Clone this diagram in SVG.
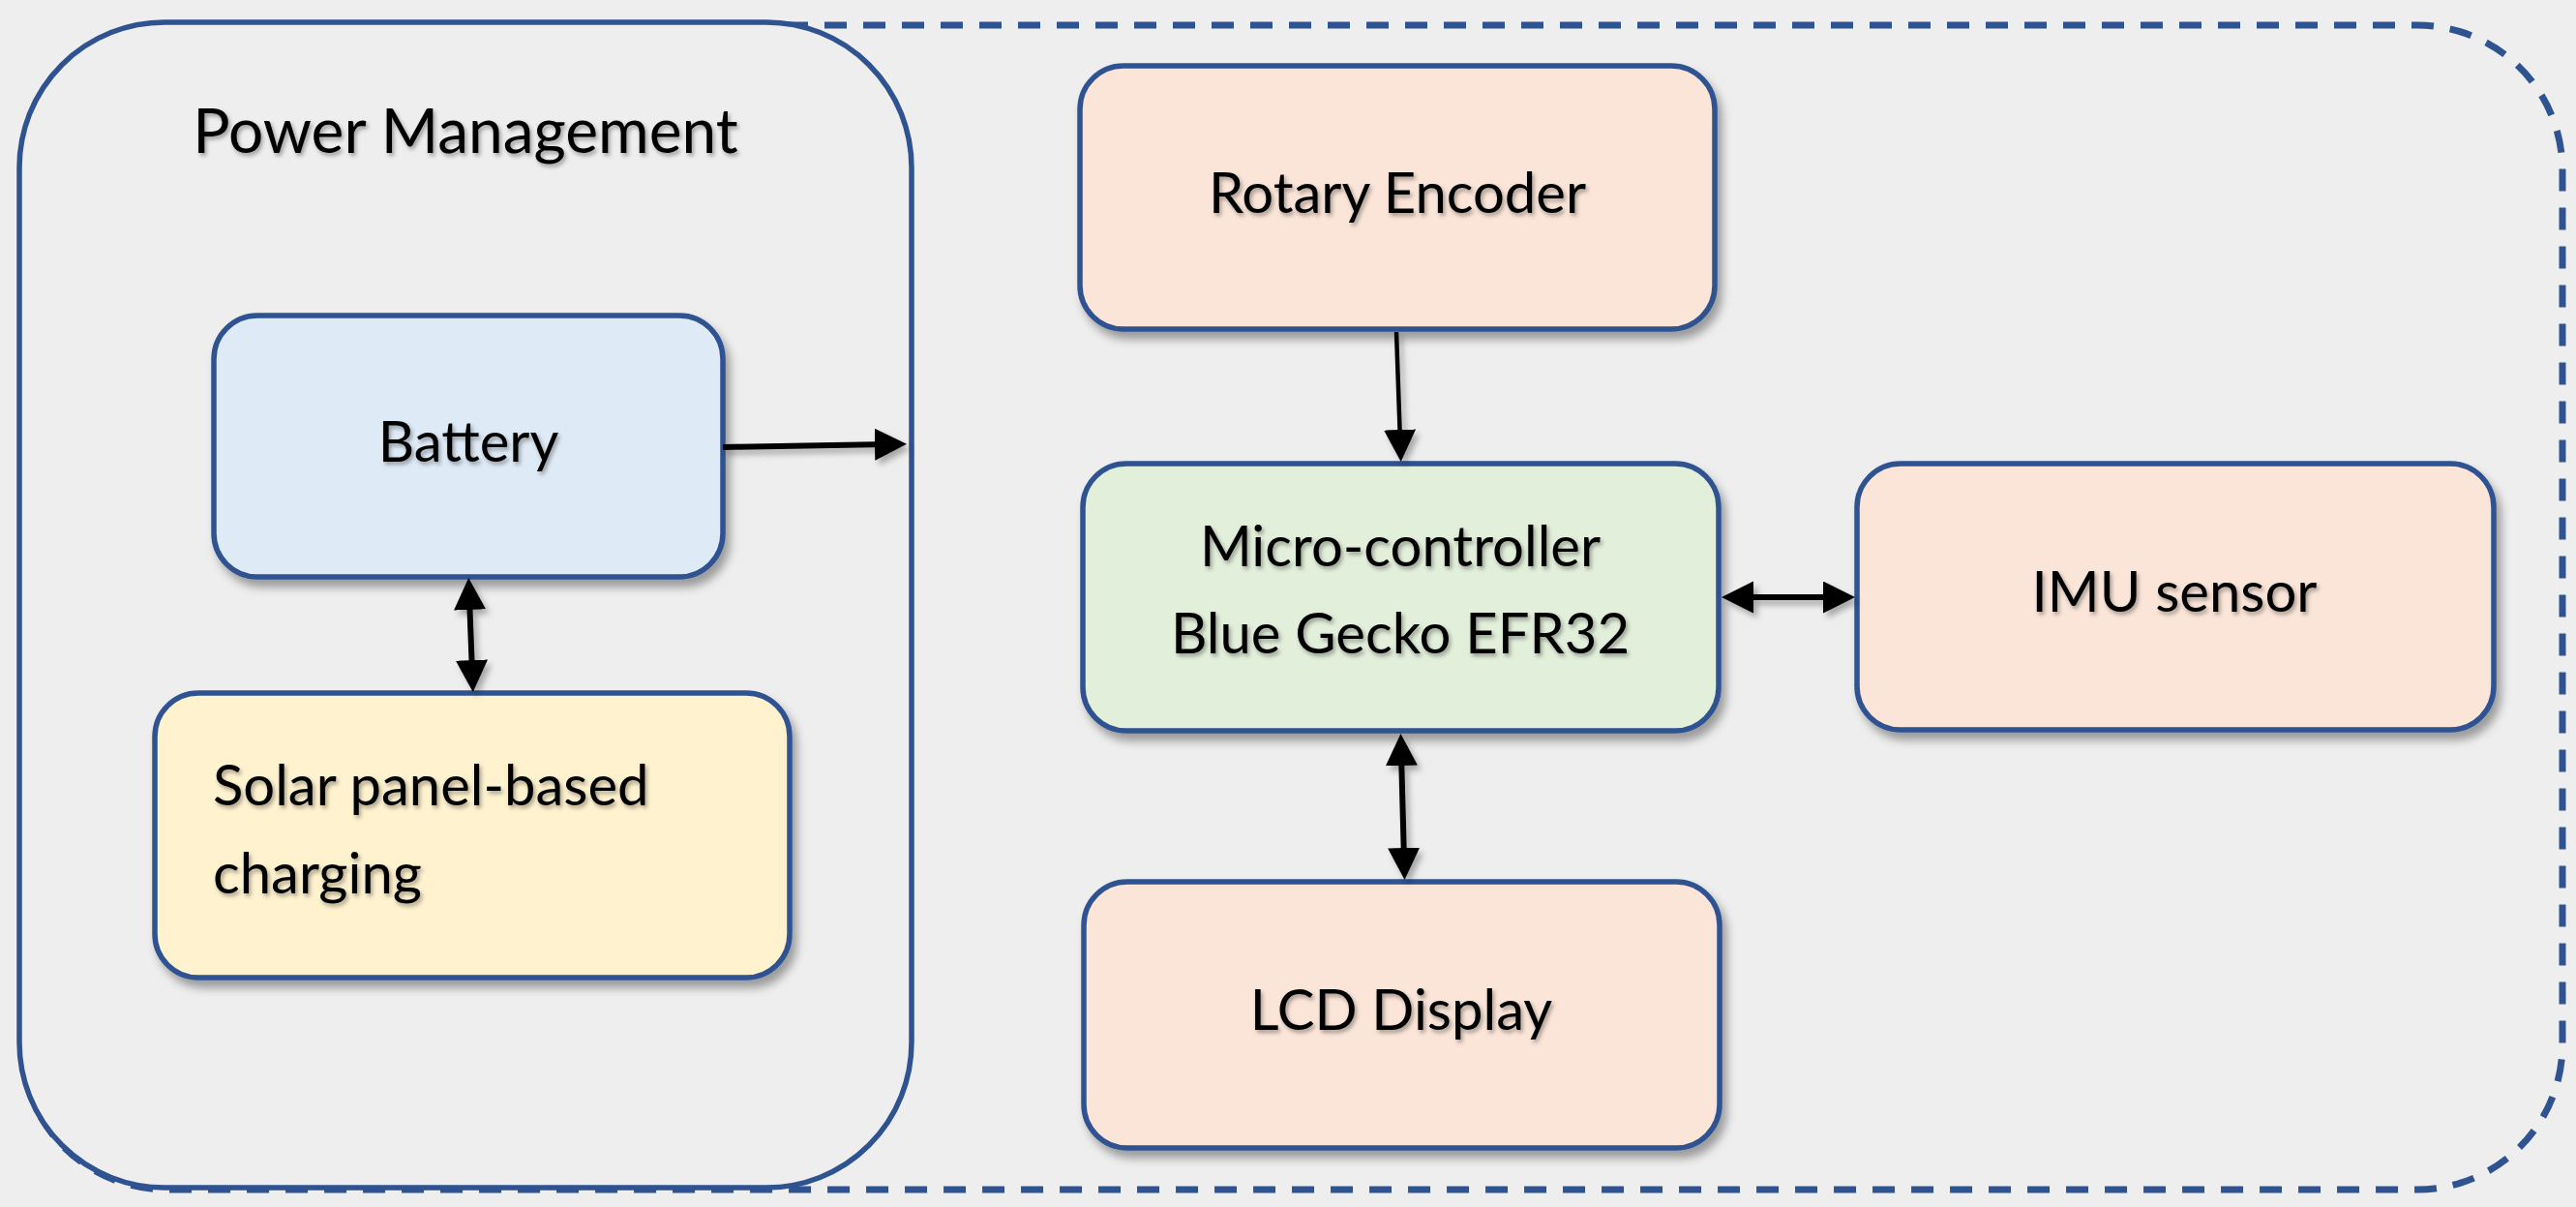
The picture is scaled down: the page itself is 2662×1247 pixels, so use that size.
<svg xmlns="http://www.w3.org/2000/svg" width="2662" height="1247" viewBox="0 0 2662 1247">
<style>
.box{stroke:#2F5290;stroke-width:5.5;filter:url(#sh)}
.lbl{font-family:Lato,"Open Sans",sans-serif;font-size:58px;fill:#000;filter:url(#tsh)}
.mid{text-anchor:middle}
.conn{stroke:#000;stroke-width:6;fill:none}
</style>
<defs>
<filter id="sh" x="-10%" y="-10%" width="130%" height="140%">
<feDropShadow dx="5" dy="8" stdDeviation="5" flood-color="#000" flood-opacity="0.35"/>
</filter>
<filter id="tsh" x="-10%" y="-10%" width="130%" height="140%">
<feDropShadow dx="2" dy="3" stdDeviation="2" flood-color="#000" flood-opacity="0.35"/>
</filter>
<filter id="csh" filterUnits="userSpaceOnUse" x="0" y="0" width="2662" height="1247">
<feDropShadow dx="4" dy="5" stdDeviation="3" flood-color="#000" flood-opacity="0.3"/>
</filter>
<marker id="ah" markerUnits="userSpaceOnUse" markerWidth="34" markerHeight="34" viewBox="0 0 34 34" refX="13" refY="16.5" orient="auto-start-reverse">
<path d="M0,0 L33,16.5 L0,33 z" fill="#000"/>
</marker>
</defs>
<rect x="0" y="0" width="2662" height="1247" fill="#EEEEEE"/>
<g id="system-boundary">
<rect x="22" y="26" width="2626" height="1203" rx="150" ry="150" fill="none" stroke="#2F5290" stroke-width="7" stroke-dasharray="23 17"/>
</g>
<g id="power-management">
<rect x="20" y="23" width="922" height="1204" rx="150" ry="150" fill="#EEEEEE" stroke="#2F5290" stroke-width="5.5"/>
<text class="lbl mid" x="481" y="158" style="font-size:64px">Power Management</text>
</g>
<g id="battery">
<rect class="box" x="221" y="326" width="526" height="270" rx="45" fill="#DEEAF6"/>
<text class="lbl mid" x="484" y="477">Battery</text>
</g>
<g id="solar">
<rect class="box" x="160" y="716" width="656" height="294" rx="45" fill="#FFF2CF"/>
<text class="lbl" x="220" y="832">Solar panel-based</text>
<text class="lbl" x="220" y="923">charging</text>
</g>
<g id="rotary-encoder">
<rect class="box" x="1116" y="68" width="656" height="272" rx="45" fill="#FBE5D8"/>
<text class="lbl mid" x="1444" y="220">Rotary Encoder</text>
</g>
<g id="microcontroller">
<rect class="box" x="1119" y="479" width="657" height="276" rx="45" fill="#E2EFDA"/>
<text class="lbl mid" x="1447" y="585">Micro-controller</text>
<text class="lbl mid" x="1447" y="675">Blue Gecko EFR32</text>
</g>
<g id="imu-sensor">
<rect class="box" x="1919" y="479" width="658" height="275" rx="45" fill="#FBE5D8"/>
<text class="lbl mid" x="2247" y="632">IMU sensor</text>
</g>
<g id="lcd-display">
<rect class="box" x="1120" y="911" width="657" height="275" rx="45" fill="#FBE5D8"/>
<text class="lbl mid" x="1448" y="1064">LCD Display</text>
</g>
<g id="connectors" filter="url(#csh)">
<path class="conn" d="M747,462 L917,459" marker-end="url(#ah)"/>
<path class="conn" d="M1443,343 L1447,457" marker-end="url(#ah)" style="stroke-width:4.5"/>
<path class="conn" d="M1799,617 L1897,617" marker-start="url(#ah)" marker-end="url(#ah)"/>
<path class="conn" d="M1448,778 L1451,889" marker-start="url(#ah)" marker-end="url(#ah)"/>
<path class="conn" d="M485,617 L488,695" marker-start="url(#ah)" marker-end="url(#ah)"/>
</g>
</svg>
